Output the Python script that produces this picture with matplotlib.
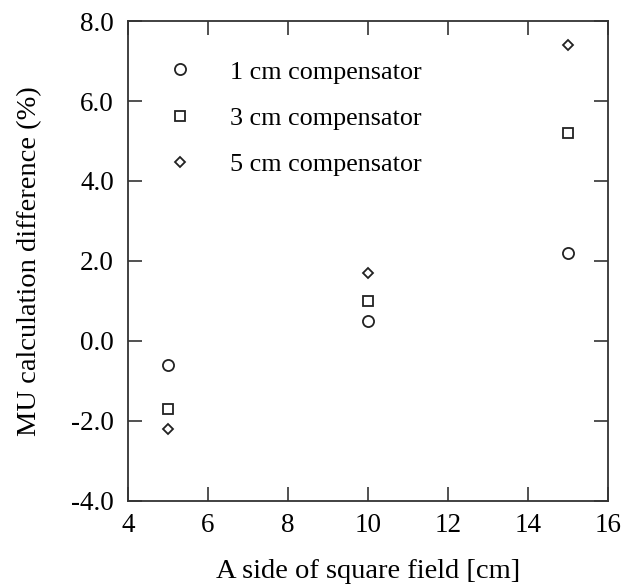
import matplotlib.pyplot as plt

field = [5, 10, 15]
comp_1cm = [-0.6, 0.5, 2.2]
comp_3cm = [-1.7, 1.0, 5.2]
comp_5cm = [-2.2, 1.7, 7.4]
labels = ["1 cm compensator", "3 cm compensator", "5 cm compensator"]

plt.rcParams["font.family"] = ["Liberation Serif", "DejaVu Serif"]

fig = plt.figure(figsize=(6.24, 5.85), dpi=100)
ax = fig.add_axes([0.2051, 0.1436, 0.769, 0.8205])

style = dict(linestyle="none", markerfacecolor="white", markeredgecolor="#222222", markeredgewidth=1.3)
ax.plot(field, comp_1cm, marker="o", markersize=8, label=labels[0], **style)
ax.plot(field, comp_3cm, marker="s", markersize=7, label=labels[1], **style)
ax.plot(field, comp_5cm, marker="D", markersize=5.5, label=labels[2], **style)

ax.set_xlim(4, 16)
ax.set_ylim(-4, 8)
ax.set_xticks(range(4, 17, 2))
ax.set_yticks(range(-4, 9, 2))
ax.set_yticklabels([f"{v:.1f}" for v in range(-4, 9, 2)])
ax.tick_params(direction="in", length=10, width=1.2, color="#333333",
               top=True, right=True, labelsize=19.5)
ax.tick_params(axis="x", pad=9)
ax.tick_params(axis="y", pad=10)
for s in ax.spines.values():
    s.set_linewidth(1.3)
    s.set_color("#333333")

ax.set_xlabel("A side of square field [cm]", fontsize=20.5, labelpad=15)
ax.set_ylabel("MU calculation difference (%)", fontsize=20.5, labelpad=21)

ax.legend(loc="upper left", frameon=False, fontsize=18.8, handlelength=1.0,
          handletextpad=1.4, labelspacing=0.88, numpoints=1,
          bbox_to_anchor=(0.033, 0.967))

fig.savefig("out.png", dpi=100)
